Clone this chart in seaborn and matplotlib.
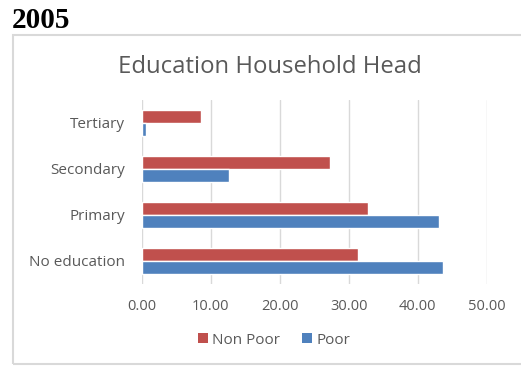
import matplotlib
matplotlib.use("Agg")
import matplotlib.pyplot as plt
import seaborn as sns
import pandas as pd
from matplotlib.patches import Rectangle, Patch

categories = ["Tertiary", "Secondary", "Primary", "No education"]
non_poor = [8.6, 27.3, 32.8, 31.4]
poor = [0.6, 12.6, 43.1, 43.7]
series = ["Non Poor", "Poor"]
colors = ["#C0504D", "#4F81BD"]
xticks = [0, 10, 20, 30, 40, 50]

df = pd.DataFrame({
    "category": categories * 2,
    "value": non_poor + poor,
    "series": ["Non Poor"] * len(categories) + ["Poor"] * len(categories),
})

sns.set_style("white")
plt.rcParams["font.family"] = ["Open Sans", "DejaVu Sans"]

fig = plt.figure(figsize=(5.21, 3.67), dpi=100)
ax = fig.add_axes([141.7 / 521, 1 - 284 / 367, 345 / 521, 184 / 367])

sns.barplot(data=df, x="value", y="category", hue="series", order=categories,
            hue_order=series, palette=colors, orient="h", width=0.55, gap=0,
            ax=ax, legend=False, saturation=1)

ax.set_xlim(0, 50)
ax.set_xticks(xticks)
ax.set_xticklabels([f"{v:.2f}" for v in xticks])
ax.set_ylim(3.5, -0.5)
ax.set_xlabel("")
ax.set_ylabel("")
for s in ax.spines.values():
    s.set_visible(False)
ax.grid(axis="x", color="#d9d9d9", linewidth=1)
ax.set_axisbelow(True)
ax.tick_params(axis="both", length=0, labelcolor="#595959")
ax.tick_params(axis="x", pad=10.5, labelsize=10.5)
ax.tick_params(axis="y", pad=12, labelsize=11)

fig.text(270 / 521, 1 - 73 / 367, "Education Household Head", ha="center", va="baseline",
         fontsize=17.2, color="#595959")
fig.text(12 / 521, 1 - 28 / 367, "2005", ha="left", va="baseline", fontsize=21,
         fontweight="bold", family=["Liberation Serif"], color="black")

border = Rectangle((12.5 / 521, 3 / 367), 1.1, (364 - 35) / 367, transform=fig.transFigure,
                   fill=False, edgecolor="#d9d9d9", linewidth=1.5, clip_on=False)
fig.patches.append(border)

handles = [Patch(facecolor=c, edgecolor="none") for c in colors]
fig.legend(handles, series, loc="center", bbox_to_anchor=(274 / 521, 1 - 340 / 367),
           ncol=2, frameon=False, fontsize=11, labelcolor="#595959",
           handlelength=0.65, handleheight=0.65, handletextpad=0.3, columnspacing=1.4)

fig.savefig("out.png", dpi=100)
